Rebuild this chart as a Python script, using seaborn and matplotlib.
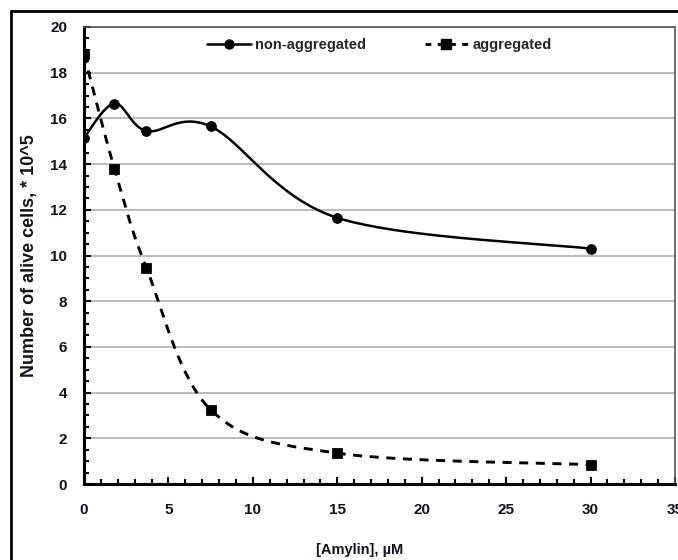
import numpy as np
import matplotlib
matplotlib.use('Agg')
import matplotlib.pyplot as plt
import seaborn as sns
from matplotlib.lines import Line2D
from matplotlib.ticker import MultipleLocator

amylin = [0, 1.8, 3.7, 7.5, 15, 30]
non_aggregated = [15.15, 16.65, 15.45, 15.65, 11.65, 10.3]
aggregated = [18.8, 13.8, 9.45, 3.25, 1.35, 0.85]
series_names = ["non-aggregated", "aggregated"]
x_ticks = [0, 5, 10, 15, 20, 25, 30, 35]
y_ticks = [0, 2, 4, 6, 8, 10, 12, 14, 16, 18, 20]

sns.set_theme(style='white')
plt.rcParams['font.family'] = ['Liberation Sans', 'DejaVu Sans']
plt.rcParams['font.weight'] = 'bold'


def smooth(xs, ys, sx=16.9, sy=22.85, n=40):
    P = np.column_stack([np.asarray(xs, float) * sx, np.asarray(ys, float) * sy])
    out = []
    for i in range(len(P) - 1):
        p0 = P[i - 1] if i > 0 else P[i]
        p1 = P[i]
        p2 = P[i + 1]
        p3 = P[i + 2] if i + 2 < len(P) else P[i + 1]
        c1 = p1 + (p2 - p0) / 6
        c2 = p2 - (p3 - p1) / 6
        t = np.linspace(0, 1, n)[:, None]
        seg = (1 - t) ** 3 * p1 + 3 * (1 - t) ** 2 * t * c1 + 3 * (1 - t) * t ** 2 * c2 + t ** 3 * p2
        out.append(seg if i == 0 else seg[1:])
    S = np.vstack(out)
    return S[:, 0] / sx, S[:, 1] / sy


fig = plt.figure(figsize=(6.78, 5.6), dpi=100)
ax = fig.add_axes([84 / 678, 1 - 484 / 560, (675 - 84) / 678, (484 - 27) / 560])

# smoothed lines
sx1, sy1 = smooth(amylin, non_aggregated)
sns.lineplot(x=sx1, y=sy1, sort=False, estimator=None, ax=ax, color='black', linewidth=1.8, zorder=3)
sx2, sy2 = smooth(amylin, aggregated)
sns.lineplot(x=sx2, y=sy2, sort=False, estimator=None, ax=ax, color='black', linewidth=2.1,
             linestyle=(0, (3.1, 2.6)), zorder=3)

# markers
sns.scatterplot(x=amylin, y=non_aggregated, ax=ax, marker='o', s=50, color='black', edgecolor='black', zorder=4)
sns.scatterplot(x=amylin, y=aggregated, ax=ax, marker='s', s=48, color='black', edgecolor='black', zorder=4)

ax.set_xlim(0, 35)
ax.set_ylim(0, 20)
ax.set_xticks(x_ticks)
ax.set_yticks(y_ticks)
ax.xaxis.set_minor_locator(MultipleLocator(1))
ax.yaxis.set_minor_locator(MultipleLocator(0.5))
ax.tick_params(which='major', direction='in', length=5, width=1.5, color='black', labelsize=11)
ax.tick_params(which='minor', direction='in', length=3.5, width=1.5, color='black')
ax.tick_params(axis='x', which='both', bottom=True, top=False)
ax.tick_params(axis='y', which='both', left=True, right=False)
ax.tick_params(axis='x', which='major', pad=14)
ax.tick_params(axis='y', which='major', pad=12)
for lab in ax.get_xticklabels() + ax.get_yticklabels():
    lab.set_fontweight('bold')
    lab.set_color('#111122')

ax.yaxis.grid(True, color='#a8a8a8', linewidth=1.1)
ax.set_axisbelow(True)
ax.spines['left'].set_linewidth(2.2)
ax.spines['bottom'].set_linewidth(2.2)
ax.spines['left'].set_color('black')
ax.spines['bottom'].set_color('black')
ax.spines['top'].set_color('#555555')
ax.spines['right'].set_color('#555555')
ax.spines['top'].set_linewidth(1.2)
ax.spines['right'].set_linewidth(1.2)

ax.set_xlabel('[Amylin], µM', fontsize=10.5, fontweight='bold', color='#111122')
ax.xaxis.set_label_coords(0.467, -0.13)
ax.set_ylabel('Number of alive cells, * 10^5', fontsize=13, fontweight='bold', color='#111122')
ax.yaxis.set_label_coords(-0.078, 0.499)

handles = [
    Line2D([], [], color='black', linewidth=1.8, marker='o', markersize=6.5),
    Line2D([], [], color='black', linewidth=2.1, linestyle=(0, (2.0, 2.2)), marker='s', markersize=6.5),
]
ax.legend(handles, series_names, ncol=2, loc='center', bbox_to_anchor=(0.5, 0.961),
          frameon=False, handlelength=3.0, columnspacing=4.0, handletextpad=0.3,
          prop={'weight': 'bold', 'size': 10.5})

fig.add_artist(Line2D([11 / 678, 1.0], [1 - 11 / 560] * 2, transform=fig.transFigure, color='black', linewidth=2))
fig.add_artist(Line2D([11 / 678] * 2, [0.0, 1 - 11 / 560], transform=fig.transFigure, color='black', linewidth=2))

fig.savefig('out.png', dpi=100)
